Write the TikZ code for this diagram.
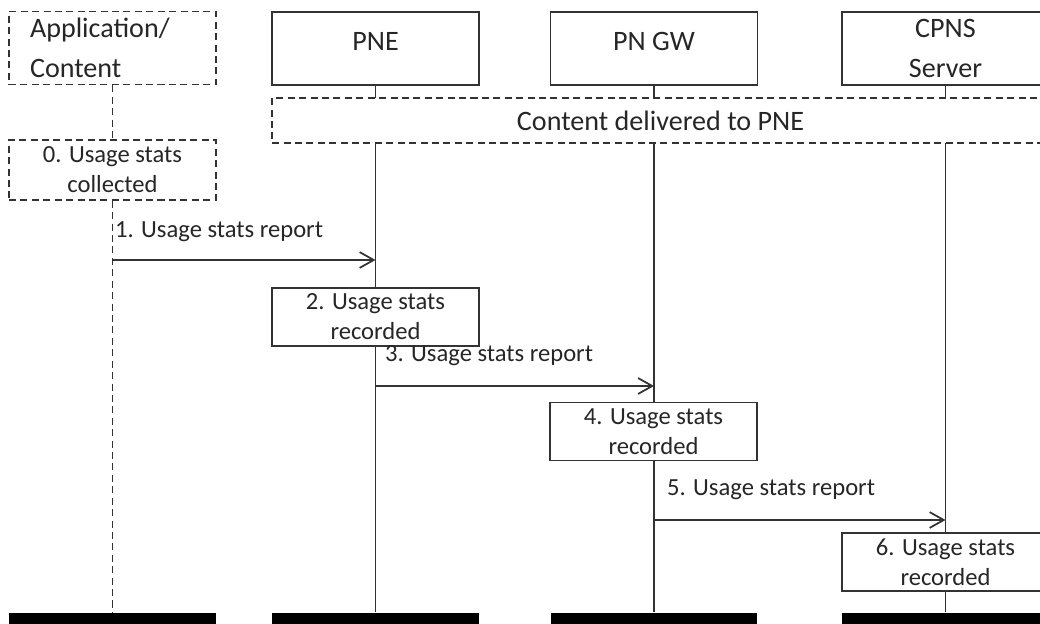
\documentclass[tikz,border=0pt]{standalone}
\usepackage{fontspec}
\setmainfont{Carlito}
\usetikzlibrary{arrows.meta,positioning,backgrounds}

\begin{document}
\begin{tikzpicture}[
    x=0.02cm, y=-0.02cm,
    actor/.style={draw=black!80, fill=white, line width=0.9pt, minimum width=4.14cm, minimum height=1.46cm, align=center, text=black!85, font=\fontsize{16}{23}\selectfont},
    dactor/.style={actor, dashed, dash pattern=on 4pt off 2.5pt},
    stepbox/.style={draw=black!80, fill=white, line width=0.9pt, minimum width=4.14cm, minimum height=1.16cm, align=center, text=black!85, font=\fontsize{14}{17}\selectfont},
    dstepbox/.style={stepbox, dashed, dash pattern=on 4pt off 2.5pt},
    notebox/.style={draw=black!80, fill=white, line width=0.9pt, dashed, dash pattern=on 4pt off 2.5pt, minimum width=15.54cm, minimum height=0.9cm, text=black!85, font=\fontsize{16}{19}\selectfont},
    endbar/.style={fill=black, minimum width=4.14cm, minimum height=0.26cm, inner sep=0pt},
    life/.style={draw=black!80, line width=1pt},
    dlife/.style={life, dashed, dash pattern=on 4pt off 2.5pt},
    msg/.style={-{Straight Barb[length=8pt, width=9pt]}, draw=black!80, line width=1pt},
    lbl/.style={anchor=west, inner sep=1pt, text=black!85, font=\fontsize{14}{17}\selectfont}
]
\useasboundingbox (0,0) rectangle (1040,624);

% participants
\node[dactor, align=left, text width=3.3cm] (app) at (112.5,48) {Application/\\Content};
\node[actor, text depth=0.3cm] (pne) at (375.5,48.5) {PNE};
\node[actor, text depth=0.3cm] (gw) at (654,48.5) {PN GW};
\node[actor] (cpns) at (945.5,48.5) {CPNS\\Server};

\node[notebox] (deliv) at (660.5,120.5) {Content delivered to PNE};
\node[dstepbox, minimum height=1.2cm] (col0) at (112.5,170) {0. Usage stats\\collected};

% end bars
\node[endbar] (endA) at (112.5,619) {};
\node[endbar] (endB) at (375.5,619) {};
\node[endbar] (endC) at (654,619) {};
\node[endbar] (endD) at (945.5,619) {};

% lifelines
\draw[dlife] (app.south) -- (col0.north);
\draw[dlife] (col0.south) -- (col0.south |- endA.north);
\begin{scope}[on background layer]
\draw[life] (pne.south) -- (pne.south |- endB.north);
\draw[life] (gw.south) -- (gw.south |- endC.north);
\draw[life] (cpns.south) -- (cpns.south |- endD.north);
\end{scope}

% messages
\coordinate (m1) at (112.5,260);
\draw[msg] (m1) -- (m1 -| pne.south);
\node[lbl] (l1) at (113,232) {1. Usage stats report};

\node[stepbox] (rec2) at (375.5,317) {2. Usage stats\\recorded};

\coordinate (m3) at (375.5,386);
\draw[msg] (m3) -- (m3 -| gw.south);
\node[lbl] (l3) at (383,356) {3. Usage stats report};

\node[stepbox] (rec4) at (653.5,431.5) {4. Usage stats\\recorded};

\coordinate (m5) at (654,520);
\draw[msg] (m5) -- (m5 -| cpns.south);
\node[lbl] (l5) at (665,490) {5. Usage stats report};

\node[stepbox] (rec6) at (945.5,562) {6. Usage stats\\recorded};
\end{tikzpicture}
\end{document}
